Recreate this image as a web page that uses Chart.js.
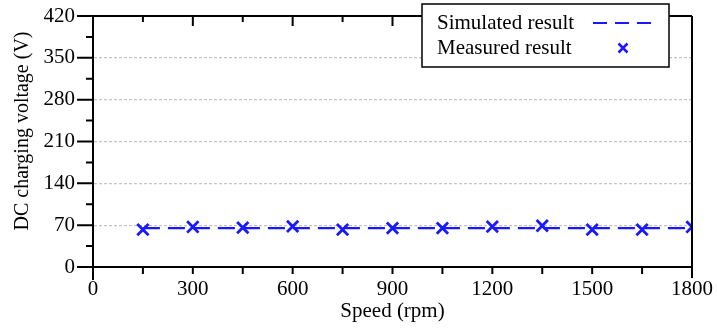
<!DOCTYPE html>
<html>
<head>
<meta charset="utf-8">
<script src="https://cdn.jsdelivr.net/npm/chart.js@4/dist/chart.umd.min.js"></script>
<style>
  html, body { margin: 0; padding: 0; background: #fff; }
  #wrap { width: 717px; height: 328px; position: relative; }
</style>
</head>
<body>
<div id="wrap"><canvas id="c" width="717" height="328"></canvas></div>
<script>
// ---- data ----
const speeds = [150, 300, 450, 600, 750, 900, 1050, 1200, 1350, 1500, 1650, 1800];
const simulated = [65, 65, 65, 65, 65, 65, 65, 65, 65, 65, 65, 65];
const measured = [62.5, 67, 66, 68, 62.5, 65, 65, 67.5, 69, 62.5, 62.5, 67];
const xTicks = [0, 300, 600, 900, 1200, 1500, 1800];
const yTicks = [0, 70, 140, 210, 280, 350, 420];
const seriesNames = ['Simulated result', 'Measured result'];
const xTitle = 'Speed (rpm)';
const yTitle = 'DC charging voltage (V)';

const BLUE = 'rgb(25,25,255)';
const FONT = "'Liberation Serif', 'Times New Roman', serif";
const FS = 21;

const framePlugin = {
  id: 'frame',
  afterDatasetsDraw(chart) {
    const { ctx, chartArea: a, scales } = chart;
    const ys = scales.y, xs = scales.x;
    ctx.save();
    ctx.strokeStyle = '#000';
    ctx.lineWidth = 2;
    ctx.beginPath();
    // top border, right border, left axis extension below
    ctx.moveTo(a.left, a.top); ctx.lineTo(a.right, a.top);
    ctx.moveTo(a.right, a.top); ctx.lineTo(a.right, a.bottom + 11);
    ctx.moveTo(a.left, a.bottom); ctx.lineTo(a.left, a.bottom + 13);
    // y major ticks (outward)
    yTicks.forEach(v => {
      const y = ys.getPixelForValue(v);
      ctx.moveTo(a.left - 16, y); ctx.lineTo(a.left, y);
    });
    // y minor ticks
    for (let i = 0; i < yTicks.length - 1; i++) {
      const y = ys.getPixelForValue((yTicks[i] + yTicks[i + 1]) / 2);
      ctx.moveTo(a.left - 7, y); ctx.lineTo(a.left, y);
    }
    // x major ticks: bottom outward, top inward
    xTicks.slice(1, -1).forEach(v => {
      const x = xs.getPixelForValue(v);
      ctx.moveTo(x, a.bottom); ctx.lineTo(x, a.bottom + 7);
      ctx.moveTo(x, a.top); ctx.lineTo(x, a.top + 10);
    });
    // x minor ticks
    for (let i = 0; i < xTicks.length - 1; i++) {
      const x = xs.getPixelForValue((xTicks[i] + xTicks[i + 1]) / 2);
      ctx.moveTo(x, a.bottom); ctx.lineTo(x, a.bottom + 7);
      ctx.moveTo(x, a.top); ctx.lineTo(x, a.top + 6);
    }
    ctx.stroke();

    // y axis title
    ctx.fillStyle = '#000';
    ctx.font = '20px ' + FONT;
    ctx.textAlign = 'center';
    ctx.textBaseline = 'middle';
    ctx.translate(23, 131);
    ctx.rotate(-Math.PI / 2);
    ctx.fillText(yTitle, 0, 0);
    ctx.restore();

    // legend
    const L = 422, T = 4, R = 669, B = 67;
    ctx.save();
    ctx.fillStyle = '#fff';
    ctx.fillRect(L, T, R - L, B - T);
    ctx.strokeStyle = '#000';
    ctx.lineWidth = 1.5;
    ctx.strokeRect(L, T, R - L, B - T);
    ctx.fillStyle = '#000';
    ctx.font = FS + 'px ' + FONT;
    ctx.textAlign = 'left';
    ctx.textBaseline = 'middle';
    const ds = chart.data.datasets;
    ctx.fillText(ds[0].label, 437, 23);
    ctx.fillText(ds[1].label, 437, 48);
    ctx.strokeStyle = BLUE;
    ctx.lineWidth = 2.2;
    ctx.setLineDash([14, 8]);
    ctx.beginPath();
    ctx.moveTo(593, 23); ctx.lineTo(658, 23);
    ctx.stroke();
    ctx.setLineDash([]);
    ctx.lineWidth = 2.6;
    const r = 4.5;
    ctx.beginPath();
    ctx.moveTo(623 - r, 48 - r); ctx.lineTo(623 + r, 48 + r);
    ctx.moveTo(623 + r, 48 - r); ctx.lineTo(623 - r, 48 + r);
    ctx.stroke();
    ctx.restore();
  }
};

new Chart(document.getElementById('c'), {
  type: 'line',
  data: {
    datasets: [
      {
        label: seriesNames[0],
        data: speeds.map((s, i) => ({ x: s, y: simulated[i] })),
        borderColor: BLUE,
        borderWidth: 2.4,
        borderDash: [17, 8],
        pointRadius: 0,
        fill: false,
        tension: 0
      },
      {
        label: seriesNames[1],
        data: speeds.map((s, i) => ({ x: s, y: measured[i] })),
        showLine: false,
        borderColor: BLUE,
        backgroundColor: BLUE,
        pointStyle: 'crossRot',
        pointRadius: 8,
        pointBorderWidth: 2.8
      }
    ]
  },
  options: {
    responsive: false,
    animation: false,
    devicePixelRatio: 1,
    layout: { padding: { top: 16, right: 25, left: 0, bottom: 0 } },
    plugins: { legend: { display: false }, tooltip: { enabled: false } },
    scales: {
      x: {
        type: 'linear',
        min: 0, max: 1800,
        afterBuildTicks: s => { s.ticks = xTicks.map(v => ({ value: v })); },
        afterFit: s => { s.height = 61; s.paddingLeft = 0; s.paddingRight = 0; },
        grid: { display: false, drawTicks: false },
        border: { display: true, color: '#000', width: 2 },
        ticks: { color: '#000', font: { family: FONT, size: FS }, padding: 10, maxRotation: 0, callback: v => String(v) },
        title: { display: true, text: xTitle, color: '#000', font: { family: FONT, size: FS }, padding: { top: 0, bottom: 4 } }
      },
      y: {
        min: 0, max: 420,
        afterBuildTicks: s => { s.ticks = yTicks.map(v => ({ value: v })); },
        afterFit: s => { s.width = 93; s.paddingTop = 0; s.paddingBottom = 0; },
        grid: {
          drawTicks: false,
          color: c => (c.tick && (c.tick.value === 0 || c.tick.value === 420)) ? 'rgba(0,0,0,0)' : '#c4c4c4',
          lineWidth: 1.3
        },
        border: { display: true, color: '#000', width: 2, dash: [3, 2] },
        ticks: { color: '#000', font: { family: FONT, size: FS }, padding: 18, callback: v => String(v) },
        title: { display: false, text: yTitle }
      }
    }
  },
  plugins: [framePlugin]
});
</script>
</body>
</html>
